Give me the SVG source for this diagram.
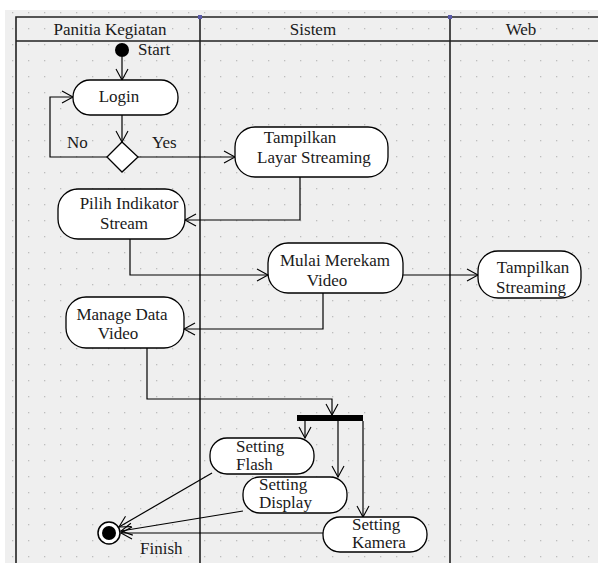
<svg xmlns="http://www.w3.org/2000/svg" width="598" height="563" viewBox="0 0 598 563">
<style>
.t{font-family:"Liberation Serif","Times New Roman",serif;font-size:17px;fill:#1a1a1a}
.m{text-anchor:middle}
.n{fill:#fff;stroke:#000;stroke-width:1.3}
.c{fill:none;stroke:#000;stroke-width:1.2}
.c2{fill:none;stroke:#000;stroke-width:1.2;marker-end:url(#ah)}
.lane{stroke:#222;stroke-width:1.6;fill:none}
</style>
<defs>
<marker id="ah" markerUnits="userSpaceOnUse" markerWidth="14" markerHeight="14" refX="11" refY="6" orient="auto" overflow="visible">
<path d="M0,0 L11,6 L0,12" fill="none" stroke="#000" stroke-width="1.1"/>
</marker>
<pattern id="grid" patternUnits="userSpaceOnUse" x="12" y="12" width="16" height="16">
<rect x="0" y="0" width="1.3" height="1.3" fill="#bdbdbd"/>
</pattern>
</defs>
<rect x="0" y="0" width="598" height="563" fill="#fff"/>
<rect x="5" y="10" width="593" height="553" fill="#efefef"/>
<rect x="5" y="10" width="593" height="553" fill="url(#grid)"/>
<g id="lanes">
<path class="lane" d="M16,563 V17 H598 M16,41 H598 M200,17 V563 M450,17 V563"/>
<rect x="198" y="15" width="4" height="4" fill="#5a5aa8"/>
<rect x="448" y="15" width="4" height="4" fill="#5a5aa8"/>
<text class="t m" x="110" y="35">Panitia Kegiatan</text>
<text class="t m" x="313" y="35">Sistem</text>
<text class="t m" x="521" y="35">Web</text>
</g>
<g id="connectors">
<path class="c2" d="M122,57 V80"/>
<path class="c2" d="M122,115 V142"/>
<path class="c2" d="M107,157 H50 V97 H73"/>
<path class="c2" d="M138,157 H235"/>
<path class="c2" d="M300,177 V220 H185"/>
<path class="c2" d="M130,239 V275 H268"/>
<path class="c2" d="M403,275 H478"/>
<path class="c2" d="M323,293 V329 H184"/>
<path class="c2" d="M147,348 V399 H332 V415"/>
<path class="c2" d="M305,421 V438"/>
<path class="c2" d="M338,421 V477"/>
<path class="c2" d="M363,421 V517"/>
<path class="c2" d="M212,473 L119,527"/>
<path class="c2" d="M243,511 L121,531"/>
<path class="c2" d="M323,533 H121"/>
</g>
<g id="start">
<circle cx="122" cy="50" r="7" fill="#000"/>
<text class="t" x="138" y="55">Start</text>
</g>
<g id="login">
<rect class="n" x="73" y="80" width="105" height="35" rx="17" ry="17"/>
<text class="t m" x="119" y="102">Login</text>
</g>
<g id="decision">
<polygon class="n" points="122,142 138,157 122,172 107,157"/>
<text class="t" x="67" y="148">No</text>
<text class="t" x="152" y="148">Yes</text>
</g>
<g id="tampilkan-layar">
<rect class="n" x="235" y="127" width="153" height="50" rx="20" ry="20"/>
<text class="t m" x="300" y="143">Tampilkan</text>
<text class="t m" x="314" y="163">Layar Streaming</text>
</g>
<g id="pilih-indikator">
<rect class="n" x="58" y="189" width="127" height="50" rx="20" ry="20"/>
<text class="t m" x="129" y="209">Pilih Indikator</text>
<text class="t m" x="124" y="229">Stream</text>
</g>
<g id="mulai-merekam">
<rect class="n" x="268" y="243" width="135" height="50" rx="20" ry="20"/>
<text class="t m" x="335" y="266">Mulai Merekam</text>
<text class="t m" x="327" y="286">Video</text>
</g>
<g id="tampilkan-streaming">
<rect class="n" x="478" y="251" width="103" height="47" rx="20" ry="20"/>
<text class="t m" x="533" y="273">Tampilkan</text>
<text class="t m" x="531" y="293">Streaming</text>
</g>
<g id="manage-data">
<rect class="n" x="66" y="297" width="118" height="51" rx="20" ry="20"/>
<text class="t m" x="122" y="320">Manage Data</text>
<text class="t m" x="118" y="339">Video</text>
</g>
<g id="fork">
<rect x="297" y="415" width="66" height="6" fill="#000"/>
</g>
<g id="setting-flash">
<rect class="n" x="210" y="438" width="104" height="36" rx="17" ry="17"/>
<text class="t" x="236" y="452">Setting</text>
<text class="t" x="236" y="470">Flash</text>
</g>
<g id="setting-display">
<rect class="n" x="243" y="477" width="104" height="36" rx="17" ry="17"/>
<text class="t" x="259" y="490">Setting</text>
<text class="t" x="259" y="508">Display</text>
</g>
<g id="setting-kamera">
<rect class="n" x="323" y="517" width="104" height="35" rx="17" ry="17"/>
<text class="t" x="352" y="530">Setting</text>
<text class="t" x="352" y="548">Kamera</text>
</g>
<g id="finish">
<circle cx="109" cy="533" r="11" fill="#fff" stroke="#000" stroke-width="1.5"/>
<circle cx="109" cy="533" r="7" fill="#000"/>
<text class="t" x="140" y="554">Finish</text>
</g>
</svg>
